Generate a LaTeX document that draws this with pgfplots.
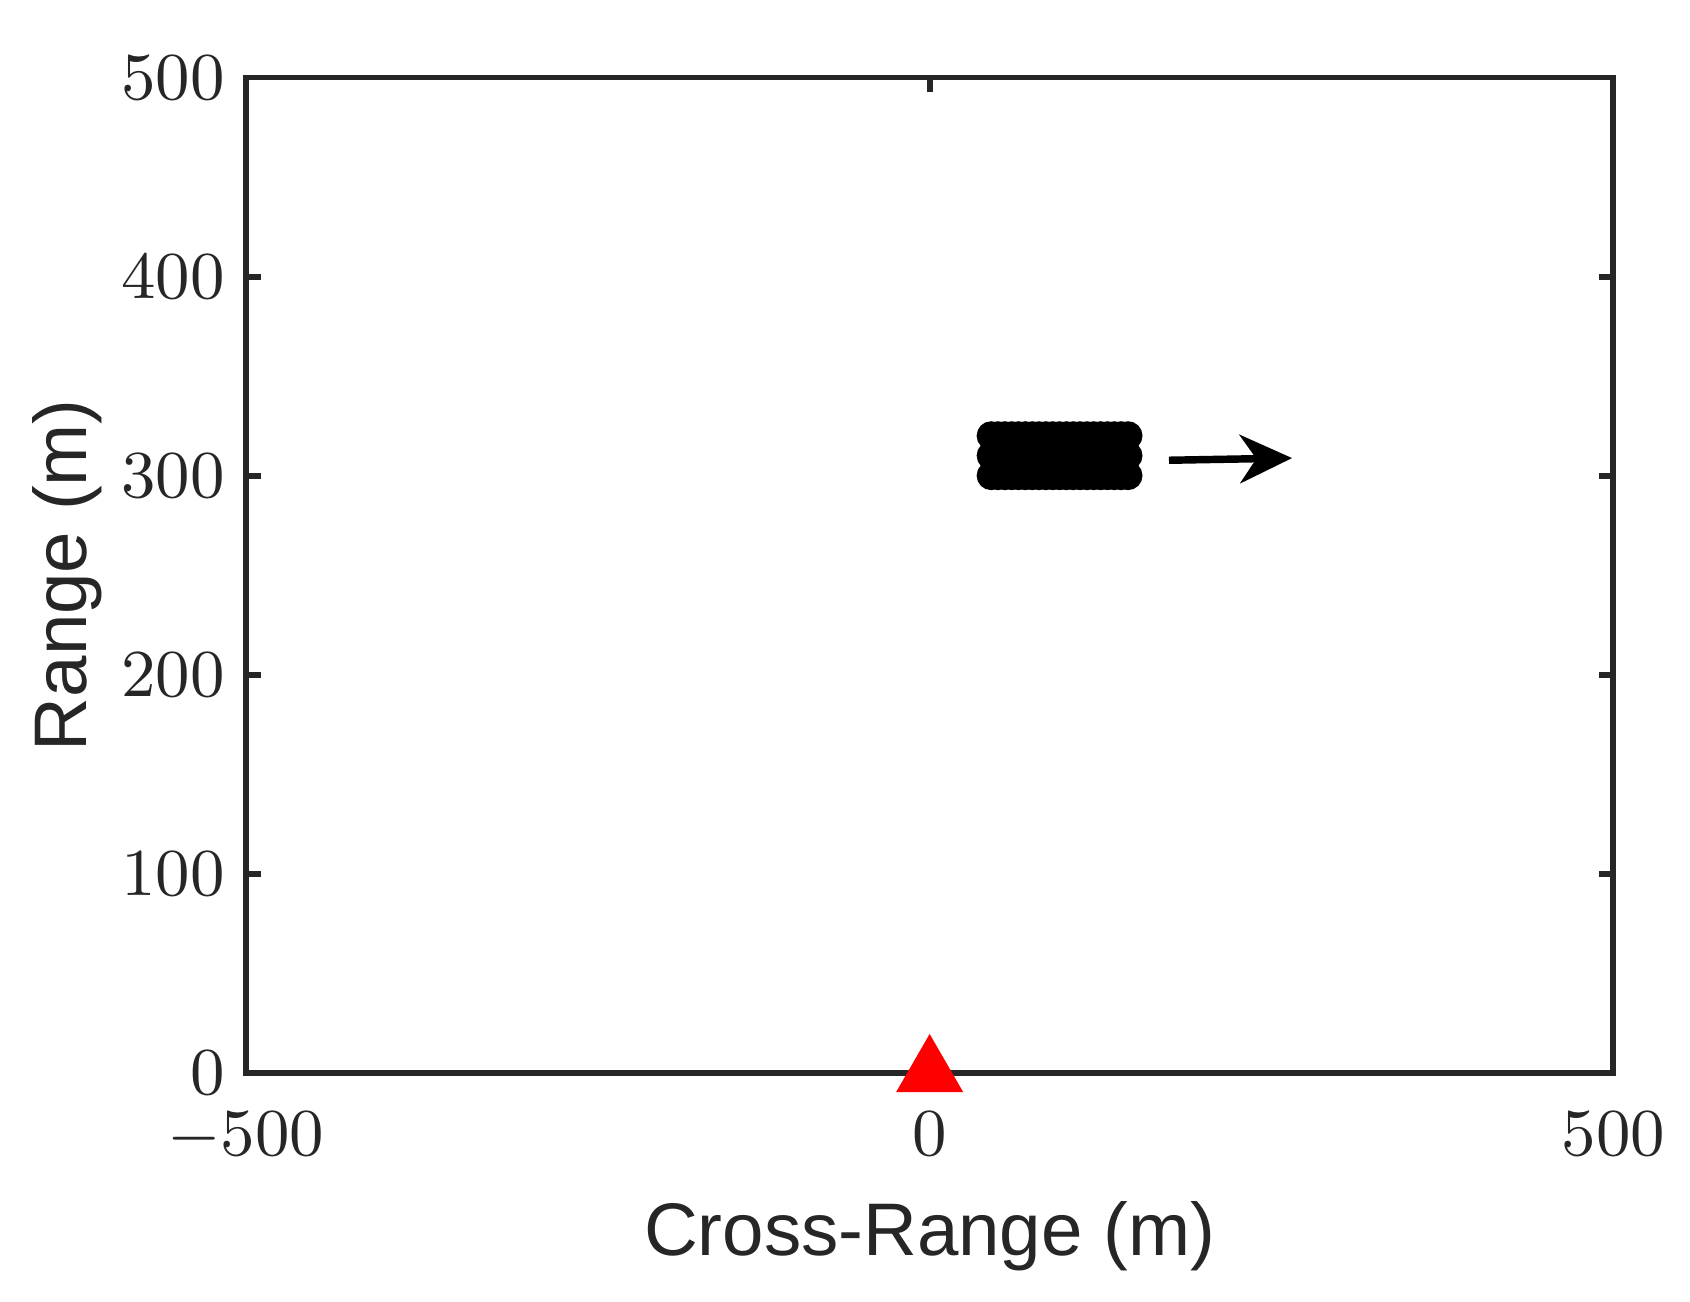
\documentclass[border=0pt]{standalone}
\usepackage{fontspec}
\setmainfont{Liberation Sans}
\usepackage{pgfplots}
\pgfplotsset{compat=1.18}
\usetikzlibrary{arrows.meta}
\definecolor{axgray}{HTML}{262626}

\pgfplotstableread{
x y
45 300
50 300
55 300
60 300
65 300
70 300
75 300
80 300
85 300
90 300
95 300
100 300
105 300
110 300
115 300
120 300
125 300
130 300
135 300
140 300
145 300
45 310
50 310
55 310
60 310
65 310
70 310
75 310
80 310
85 310
90 310
95 310
100 310
105 310
110 310
115 310
120 310
125 310
130 310
135 310
140 310
145 310
45 320
50 320
55 320
60 320
65 320
70 320
75 320
80 320
85 320
90 320
95 320
100 320
105 320
110 320
115 320
120 320
125 320
130 320
135 320
140 320
145 320
}\targets

\begin{document}
\begin{tikzpicture}
\begin{axis}[
  scale only axis,
  width=183.6pt,
  height=133.6pt,
  xmin=-500, xmax=500,
  ymin=0, ymax=500,
  xtick={-500,0,500},
  ytick={0,100,200,300,400,500},
  tick align=inside,
  major tick length=2pt,
  axis line style={axgray, line width=0.8pt},
  tick style={axgray, line width=0.8pt},
  tick label style={font=\fontsize{9}{10}\selectfont, text=axgray},
  xticklabel style={yshift=-1.8pt},
  yticklabel style={xshift=0.7pt},
  label style={font=\fontsize{10}{12}\selectfont, text=axgray},
  xlabel={Cross-Range (m)},
  ylabel={Range (m)},
  xlabel style={at={(axis description cs:0.5,0)}, anchor=center, yshift=-22pt},
  ylabel style={at={(axis description cs:0,0.5)}, anchor=center, yshift=24pt},
  clip=false,
  extra description/.code={
    \path (axis description cs:0,0) ++(-33pt,-30.7pt);
    \path (axis description cs:1,1) ++(10.2pt,10.4pt);
  },
]
\addplot[only marks, mark=*, mark size=1.75pt, black] table[x=x, y=y] {\targets};
\addplot[black, line width=1pt, -{Stealth[length=7pt, width=6.5pt, inset=2.2pt]}]
  coordinates {(175,307.7) (265,308.8)};
\addplot[only marks, mark=triangle*, mark size=4.8pt, red] coordinates {(0,0)};
\end{axis}
\end{tikzpicture}
\end{document}
